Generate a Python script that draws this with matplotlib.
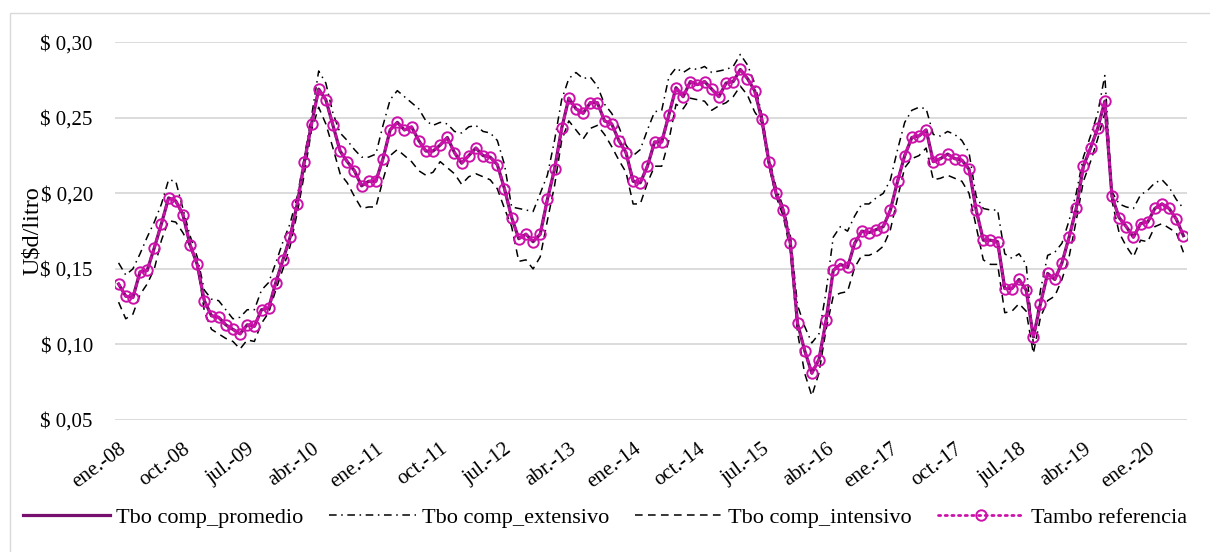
import matplotlib
matplotlib.use("Agg")
import matplotlib.pyplot as plt
from matplotlib.patches import Rectangle

plt.rcParams['font.family'] = ['Liberation Serif', 'DejaVu Serif']

# Monthly series, ene-08 .. jun-20 (150 months)
referencia = [
    0.140, 0.132, 0.131, 0.148, 0.149, 0.164, 0.180, 0.197, 0.195, 0.186,
    0.166, 0.153, 0.129, 0.119, 0.118, 0.113, 0.110, 0.107, 0.113, 0.112,
    0.123, 0.124, 0.141, 0.156, 0.171, 0.193, 0.221, 0.246, 0.269, 0.262,
    0.245, 0.228, 0.221, 0.215, 0.205, 0.208, 0.208, 0.223, 0.242, 0.247,
    0.242, 0.244, 0.235, 0.228, 0.228, 0.232, 0.237, 0.227, 0.220, 0.225,
    0.230, 0.225, 0.224, 0.219, 0.203, 0.184, 0.170, 0.173, 0.168, 0.173,
    0.196, 0.216, 0.243, 0.263, 0.256, 0.253, 0.260, 0.260, 0.248, 0.246,
    0.235, 0.227, 0.208, 0.207, 0.218, 0.234, 0.234, 0.252, 0.270, 0.264,
    0.274, 0.272, 0.274, 0.269, 0.264, 0.273, 0.274, 0.282, 0.276, 0.268,
    0.249, 0.221, 0.200, 0.189, 0.167, 0.114, 0.096, 0.081, 0.090, 0.116,
    0.149, 0.153, 0.151, 0.167, 0.175, 0.174, 0.176, 0.178, 0.189, 0.208,
    0.225, 0.237, 0.238, 0.242, 0.221, 0.223, 0.226, 0.223, 0.222, 0.216,
    0.189, 0.169, 0.169, 0.168, 0.137, 0.137, 0.143, 0.136, 0.105, 0.127,
    0.147, 0.143, 0.154, 0.171, 0.190, 0.218, 0.230, 0.243, 0.261, 0.198,
    0.184, 0.178, 0.171, 0.180, 0.181, 0.190, 0.193, 0.190, 0.183, 0.172,
]

promedio = [
    0.140, 0.132, 0.131, 0.148, 0.149, 0.164, 0.180, 0.197, 0.195, 0.186,
    0.166, 0.153, 0.129, 0.119, 0.118, 0.113, 0.110, 0.107, 0.113, 0.112,
    0.123, 0.124, 0.141, 0.156, 0.171, 0.193, 0.221, 0.246, 0.269, 0.262,
    0.245, 0.228, 0.221, 0.215, 0.205, 0.208, 0.208, 0.223, 0.242, 0.247,
    0.242, 0.244, 0.235, 0.228, 0.228, 0.232, 0.237, 0.227, 0.220, 0.225,
    0.230, 0.225, 0.224, 0.219, 0.203, 0.184, 0.170, 0.173, 0.168, 0.173,
    0.196, 0.216, 0.243, 0.263, 0.256, 0.253, 0.260, 0.260, 0.248, 0.246,
    0.235, 0.227, 0.208, 0.207, 0.218, 0.234, 0.234, 0.252, 0.270, 0.264,
    0.274, 0.272, 0.274, 0.269, 0.264, 0.273, 0.274, 0.282, 0.276, 0.268,
    0.249, 0.221, 0.200, 0.189, 0.167, 0.114, 0.096, 0.081, 0.090, 0.116,
    0.149, 0.153, 0.151, 0.167, 0.175, 0.174, 0.176, 0.178, 0.189, 0.208,
    0.225, 0.237, 0.238, 0.242, 0.221, 0.223, 0.226, 0.223, 0.222, 0.216,
    0.189, 0.169, 0.169, 0.168, 0.137, 0.137, 0.143, 0.136, 0.105, 0.127,
    0.147, 0.143, 0.154, 0.171, 0.190, 0.218, 0.230, 0.243, 0.261, 0.198,
    0.184, 0.178, 0.171, 0.180, 0.181, 0.190, 0.193, 0.190, 0.183, 0.172,
]

extensivo = [
    0.154, 0.146, 0.150, 0.160, 0.171, 0.181, 0.193, 0.209, 0.208, 0.190,
    0.172, 0.158, 0.136, 0.130, 0.129, 0.123, 0.117, 0.118, 0.123, 0.123,
    0.136, 0.141, 0.154, 0.168, 0.180, 0.198, 0.224, 0.251, 0.281, 0.273,
    0.253, 0.240, 0.235, 0.229, 0.224, 0.224, 0.226, 0.245, 0.262, 0.268,
    0.264, 0.260, 0.256, 0.248, 0.245, 0.247, 0.246, 0.241, 0.240, 0.244,
    0.245, 0.241, 0.240, 0.235, 0.219, 0.191, 0.190, 0.189, 0.188, 0.200,
    0.212, 0.235, 0.262, 0.276, 0.280, 0.276, 0.277, 0.271, 0.259, 0.253,
    0.244, 0.232, 0.225, 0.229, 0.242, 0.254, 0.255, 0.277, 0.283, 0.280,
    0.283, 0.282, 0.284, 0.280, 0.281, 0.282, 0.284, 0.292, 0.285, 0.273,
    0.252, 0.224, 0.204, 0.191, 0.172, 0.126, 0.112, 0.101, 0.107, 0.135,
    0.171, 0.178, 0.175, 0.185, 0.193, 0.193, 0.197, 0.200, 0.209, 0.229,
    0.247, 0.255, 0.257, 0.256, 0.239, 0.238, 0.241, 0.239, 0.235, 0.227,
    0.198, 0.190, 0.189, 0.189, 0.160, 0.157, 0.160, 0.153, 0.100, 0.136,
    0.159, 0.161, 0.167, 0.182, 0.200, 0.224, 0.238, 0.253, 0.278, 0.201,
    0.193, 0.191, 0.190, 0.199, 0.202, 0.207, 0.209, 0.204, 0.196, 0.190,
]

intensivo = [
    0.128, 0.117, 0.120, 0.133, 0.140, 0.150, 0.169, 0.182, 0.181, 0.174,
    0.165, 0.154, 0.122, 0.110, 0.107, 0.104, 0.102, 0.097, 0.103, 0.102,
    0.114, 0.121, 0.136, 0.150, 0.165, 0.187, 0.213, 0.242, 0.257, 0.246,
    0.230, 0.213, 0.207, 0.198, 0.190, 0.191, 0.191, 0.209, 0.225, 0.229,
    0.225, 0.221, 0.215, 0.212, 0.214, 0.221, 0.217, 0.213, 0.206, 0.211,
    0.213, 0.211, 0.209, 0.203, 0.190, 0.178, 0.155, 0.156, 0.150, 0.158,
    0.182, 0.205, 0.235, 0.248, 0.242, 0.236, 0.243, 0.245, 0.239, 0.231,
    0.222, 0.214, 0.193, 0.193, 0.207, 0.218, 0.218, 0.235, 0.259, 0.256,
    0.263, 0.262, 0.261, 0.255, 0.258, 0.260, 0.264, 0.271, 0.265, 0.254,
    0.247, 0.218, 0.198, 0.185, 0.162, 0.108, 0.081, 0.066, 0.081, 0.110,
    0.132, 0.134, 0.135, 0.151, 0.159, 0.159, 0.161, 0.165, 0.176, 0.197,
    0.217, 0.223, 0.225, 0.230, 0.209, 0.210, 0.212, 0.210, 0.208, 0.200,
    0.178, 0.156, 0.153, 0.153, 0.121, 0.122, 0.127, 0.122, 0.094, 0.118,
    0.129, 0.132, 0.143, 0.158, 0.182, 0.208, 0.221, 0.236, 0.253, 0.195,
    0.174, 0.165, 0.158, 0.169, 0.168, 0.178, 0.180, 0.177, 0.174, 0.161,
]

tick_labels = ['ene.-08', 'oct.-08', 'jul.-09', 'abr.-10', 'ene.-11', 'oct.-11',
               'jul.-12', 'abr.-13', 'ene.-14', 'oct.-14', 'jul.-15', 'abr.-16',
               'ene.-17', 'oct.-17', 'jul.-18', 'abr.-19', 'ene.-20']
yticks = [0.05, 0.10, 0.15, 0.20, 0.25, 0.30]
ytick_labels = ['$ 0,05', '$ 0,10', '$ 0,15', '$ 0,20', '$ 0,25', '$ 0,30']

W, H = 1210, 552
fig = plt.figure(figsize=(W / 100, H / 100), dpi=100)
fig.patches.append(Rectangle((10 / W, -0.1), 1.2, 1 - 13 / H + 0.1,
                             transform=fig.transFigure, fill=False,
                             edgecolor='#d9d9d9', linewidth=1.0))

ax = fig.add_axes([115 / W, 1 - 420 / H, (1187 - 115) / W, (420 - 42.3) / H])
x = list(range(len(referencia)))

ax.plot(x, promedio, color='#760F6E', lw=2.3, label='Tbo comp_promedio', zorder=3)
ax.plot(x, extensivo, color='black', lw=1.1, linestyle=(0, (5, 3, 1, 3)),
        label='Tbo comp_extensivo', zorder=2)
ax.plot(x, intensivo, color='black', lw=1.1, linestyle=(0, (5, 3.5)),
        label='Tbo comp_intensivo', zorder=2)
ax.plot(x, referencia, color='#CC11AA', lw=2.0, linestyle=(0, (0.8, 1.6)),
        dash_capstyle='round', marker='o', markersize=7.5, mfc='none',
        mec='#CC11AA', mew=1.4, label='Tambo referencia', zorder=4)

ax.set_xlim(-0.5, len(referencia) - 0.5)
ax.set_ylim(0.05, 0.30)
ax.set_yticks(yticks)
ax.set_yticklabels(ytick_labels, fontsize=15)
ax.set_xticks(list(range(0, len(referencia), 9))[:len(tick_labels)])
ax.set_xticklabels(tick_labels, fontsize=15, rotation=37, ha='right',
                   va='top', rotation_mode='anchor')
ax.tick_params(axis='both', length=0)
ax.tick_params(axis='x', pad=14)
ax.tick_params(axis='y', pad=16)
ax.grid(axis='y', color='#d9d9d9', lw=1.3)
ax.set_axisbelow(True)
for s in ax.spines.values():
    s.set_visible(False)

fig.text(33 / W, 1 - 231 / H, 'U$d/litro', rotation=90, fontsize=17.5,
         ha='center', va='center')

fig.legend(loc='center', bbox_to_anchor=(0.5, 1 - 518 / H), ncol=4,
           frameon=False, fontsize=16, handlelength=3.9, columnspacing=1.15,
           handletextpad=0.3, borderpad=0.2)

fig.savefig('out.png', dpi=100)
